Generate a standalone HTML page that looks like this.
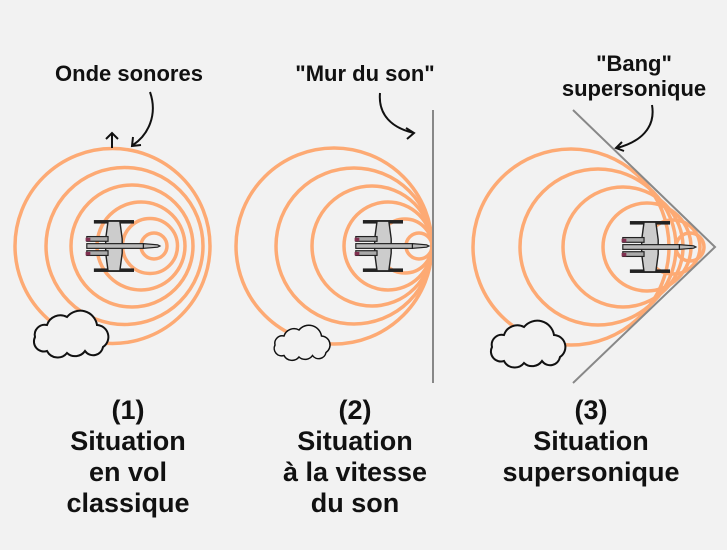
<!DOCTYPE html>
<html><head><meta charset="utf-8"><style>
body{margin:0;background:#f2f2f2}
svg{display:block}
text{font-family:"Liberation Sans",sans-serif;font-weight:bold;fill:#111;text-anchor:middle}
</style></head><body>
<svg width="727" height="550" viewBox="0 0 727 550" xmlns="http://www.w3.org/2000/svg">
<defs>
<g id="plane" transform="scale(1.18)">
 <rect x="-34" y="-22" width="34" height="3" fill="#222"/>
 <rect x="-34" y="19" width="34" height="3" fill="#222"/>
 <polygon points="-22,-21 -12,-21 -10,-6 -10,6 -12,21 -22,21 -24,6 -24,-6" fill="#ccc" stroke="#222" stroke-width="1.2"/>
 <rect x="-40" y="-8" width="18" height="4" fill="#aaa" stroke="#222" stroke-width="1"/>
 <rect x="-40" y="4" width="18" height="4" fill="#aaa" stroke="#222" stroke-width="1"/>
 <rect x="-41" y="-7" width="4" height="3" fill="#803050"/>
 <rect x="-41" y="5" width="4" height="3" fill="#803050"/>
 <rect x="-40" y="-2" width="48" height="4" fill="#bbb" stroke="#222" stroke-width="1"/>
 <polygon points="8,-2 20,-1 22,0 20,1 8,2" fill="#bbb" stroke="#222" stroke-width="1"/>
</g>
<g id="cloud" fill="#f2f2f2" stroke="#111" stroke-width="2">
 <path d="M0,0 a10,10 0 0 1 12,-12 a14,14 0 0 1 20,-8 a17,17 0 0 1 30,8 a12,12 0 0 1 6,22 a10,10 0 0 1 -18,4 a12,12 0 0 1 -18,2 a12,12 0 0 1 -20,-2 a10,10 0 0 1 -12,-14z"/>
</g>
</defs>
<g fill="none" stroke="#fdaa74" stroke-width="3.5">
 <circle cx="112.5" cy="246" r="97.5"/><circle cx="124.5" cy="246" r="78.5"/><circle cx="132" cy="246" r="61"/><circle cx="141" cy="246" r="44"/><circle cx="150" cy="246" r="27.5"/><circle cx="154" cy="246" r="13"/>
 <circle cx="334" cy="246" r="98"/><circle cx="354" cy="246" r="78"/><circle cx="372" cy="246" r="60"/><circle cx="388" cy="246" r="44"/><circle cx="405" cy="246" r="27"/><circle cx="419" cy="246" r="13"/>
 <circle cx="571" cy="247" r="98"/><circle cx="598" cy="247" r="78"/><circle cx="623" cy="247" r="60"/><circle cx="647" cy="247" r="44"/><circle cx="673" cy="247" r="27"/><circle cx="690" cy="247" r="14"/>
</g>
<line x1="433" y1="110" x2="433" y2="383" stroke="#888" stroke-width="2"/>
<polyline points="573,110 715,247 573,383" fill="none" stroke="#888" stroke-width="2"/>
<use href="#plane" x="134" y="246"/>
<use href="#plane" x="403" y="246"/>
<use href="#plane" x="670" y="247"/>
<use href="#cloud" x="35" y="337"/>
<use href="#cloud" x="275" y="345" transform="translate(275 345) scale(0.75) translate(-275 -345)"/>
<use href="#cloud" x="492" y="347"/>
<g fill="none" stroke="#111" stroke-width="2">
 <path d="M112,148 V133 M106,139 L112,133 L118,139"/>
 <path d="M150,92 C158,115 148,135 133,145 M133,137 L132,146 L141,145"/>
 <path d="M380,93 C378,115 392,128 414,133 M406,128 L414,133 L407,139"/>
 <path d="M652,105 C656,128 640,142 617,148 M622,142 L616,148 L624,151"/>
</g>
<g font-size="22">
<text x="129" y="81">Onde sonores</text>
<text x="365" y="81">"Mur du son"</text>
<text x="634" y="71">"Bang"</text>
<text x="634" y="96">supersonique</text>
</g>
<g font-size="27">
<text x="128" y="419">(1)</text><text x="128" y="450">Situation</text><text x="128" y="481">en vol</text><text x="128" y="512">classique</text>
<text x="355" y="419">(2)</text><text x="355" y="450">Situation</text><text x="355" y="481">à la vitesse</text><text x="355" y="512">du son</text>
<text x="591" y="419">(3)</text><text x="591" y="450">Situation</text><text x="591" y="481">supersonique</text>
</g>
</svg>
</body></html>
